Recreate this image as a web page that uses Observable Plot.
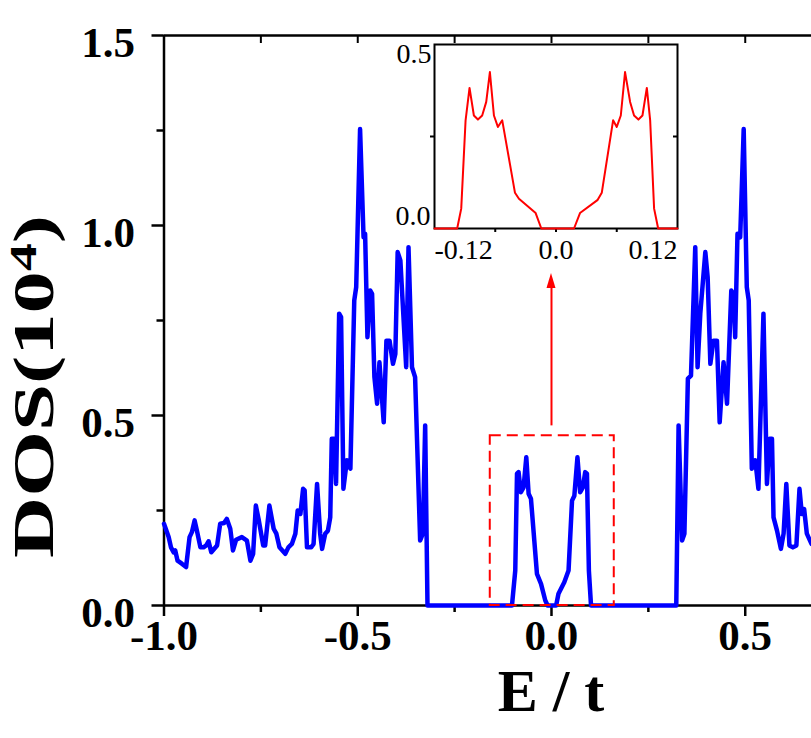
<!DOCTYPE html>
<html>
<head>
<meta charset="utf-8">
<script src="https://cdn.jsdelivr.net/npm/d3@7"></script>
<script src="https://cdn.jsdelivr.net/npm/@observablehq/plot@0.6"></script>
<style>
  html, body { margin: 0; padding: 0; background: white; }
  #wrap { position: relative; width: 811px; height: 738px; overflow: hidden; }
  #inset { position: absolute; }
</style>
</head>
<body>
<div id="wrap"></div>
<script>
// ---- main DOS curve (E/t, DOS in 10^4) ----
const E = [
 -1.000,-0.988,-0.982,-0.975,-0.971,-0.965,-0.954,-0.943,-0.934,-0.928,-0.921,-0.915,-0.906,-0.898,-0.891,-0.885,-0.878,-0.863,-0.855,-0.845,
 -0.838,-0.829,-0.822,-0.814,-0.799,-0.786,-0.777,-0.770,-0.763,-0.756,-0.744,-0.739,-0.728,-0.717,-0.710,-0.702,-0.687,-0.679,-0.670,-0.661,
 -0.655,-0.648,-0.641,-0.637,-0.631,-0.620,-0.614,-0.605,-0.597,-0.592,-0.584,-0.577,-0.571,-0.567,-0.561,-0.556,-0.548,-0.543,-0.537,-0.528,
 -0.519,-0.509,-0.504,-0.494,-0.485,-0.481,-0.475,-0.468,-0.463,-0.457,-0.450,-0.444,-0.433,-0.426,-0.418,-0.409,-0.403,-0.397,-0.390,-0.375,
 -0.369,-0.360,-0.352,-0.339,-0.332,-0.326,-0.320,
 -0.102,-0.0935,-0.089,-0.085,-0.079,-0.072,-0.065,-0.059,-0.053,-0.0375,-0.027,-0.016,-0.010,
 0.012,0.018,0.033,0.044,0.053,0.059,0.067,0.074,0.081,0.087,0.0915,0.0965,0.102,
 0.322,0.328,0.337,0.343,0.352,0.360,0.371,0.377,0.384,0.397,0.403,0.410,0.418,0.427,0.434,0.444,0.453,0.464,0.470,0.474,
 0.480,0.487,0.496,0.504,0.509,0.517,0.526,0.534,0.547,0.556,0.563,0.569,0.573,0.582,0.592,0.599,0.606,0.614,0.623,0.632,
 0.640,0.646,0.652,0.659,0.671
];
const DOS = [
 0.215,0.180,0.153,0.140,0.145,0.118,0.110,0.101,0.180,0.193,0.224,0.197,0.153,0.153,0.158,0.169,0.140,0.158,0.215,0.217,
 0.228,0.202,0.145,0.173,0.180,0.171,0.118,0.136,0.263,0.228,0.158,0.158,0.263,0.202,0.189,0.153,0.136,0.153,0.162,0.189,
 0.250,0.241,0.307,0.303,0.153,0.153,0.162,0.320,0.189,0.149,0.189,0.197,0.232,0.439,0.439,0.320,0.768,0.759,0.307,0.382,
 0.360,0.803,0.838,1.254,0.969,0.978,0.706,0.829,0.820,0.601,0.531,0.640,0.482,0.697,0.697,0.636,0.662,0.930,0.908,0.627,
 0.943,0.627,0.601,0.171,0.189,0.474,0,
 0,0.092,0.347,0.351,0.298,0.311,0.390,0.294,0.281,0.083,0.057,0.013,0,
 0,0.031,0.061,0.092,0.276,0.289,0.390,0.298,0.311,0.351,0.347,0.092,0,
 0,0.474,0.171,0.189,0.597,0.605,0.943,0.627,0.768,0.930,0.864,0.636,0.697,0.697,0.482,0.640,0.531,0.829,0.820,0.706,
 0.978,0.969,1.254,0.838,0.803,0.360,0.382,0.307,0.768,0.320,0.439,0.439,0.232,0.197,0.149,0.189,0.320,0.158,0.153,0.158,
 0.307,0.241,0.254,0.189,0.162
];

// ---- inset curve ----
const insetE = [
 -0.12,-0.0976,-0.0936,-0.0893,-0.0854,-0.0811,-0.0771,-0.0729,-0.0689,-0.0653,-0.0613,-0.0574,-0.0531,-0.0405,-0.0366,-0.0201,-0.0145,
 0.0178,0.0237,0.0409,0.0452,0.0564,0.0600,0.0640,0.0682,0.0732,0.0771,0.0814,0.0854,0.0897,0.0930,0.0969,0.1009,0.12
];
const insetDOS = [
 0,0,0.054,0.294,0.382,0.307,0.296,0.307,0.344,0.425,0.307,0.276,0.294,0.097,0.081,0.042,0,
 0,0.042,0.077,0.097,0.294,0.276,0.307,0.425,0.344,0.307,0.296,0.307,0.382,0.294,0.054,0,0
];

// ---- ticks ----
const xTicks = [-1, -0.5, 0, 0.5];
const xMinor = [-0.75, -0.25, 0.25];
const yTicks = [0, 0.5, 1.0, 1.5];
const yMinor = [0.25, 0.75, 1.25];
const insetXLabels = [-0.12, 0, 0.12];
const insetXTicks = [-0.06, 0, 0.06];
const insetYLabels = [0, 0.5];
const insetYTicks = [0.25];

// ---- annotations (zoom box and arrow) ----
const boxE = [-0.158, 0.162];
const boxDOS = [0, 0.447];
const arrowE = [0];
const arrowDOS = [0.474, 0.874];

const fmt1 = d => d.toFixed(1);
const data = E.map((e, i) => ({e, v: DOS[i]}));
const insetData = insetE.map((e, i) => ({e, v: insetDOS[i]}));
const blank = () => "";

const main = Plot.plot({
  width: 811, height: 738,
  marginLeft: 163.5, marginRight: 0, marginTop: 35, marginBottom: 133,
  x: {domain: [-1, 0.671]},
  y: {domain: [0, 1.5]},
  style: {fontFamily: "Liberation Serif", fontWeight: "bold", fontSize: "43px", color: "black", background: "white", overflow: "visible"},
  marks: [
    Plot.ruleY([0], {strokeWidth: 2.5}),
    Plot.ruleY([1.5], {strokeWidth: 2.5}),
    Plot.ruleX([-1], {strokeWidth: 2.5}),
    Plot.axisX({ticks: xTicks, tickSize: 11, tickPadding: 3, tickFormat: fmt1, strokeWidth: 2.5, label: null}),
    Plot.axisX({ticks: xMinor, tickSize: 7, tickFormat: blank, strokeWidth: 2.5, label: null}),
    Plot.axisX({anchor: "top", ticks: [...xTicks, ...xMinor], tickSize: -7, tickFormat: blank, strokeWidth: 2, label: null}),
    Plot.axisY({ticks: yTicks, tickSize: 12, tickFormat: blank, strokeWidth: 2.5, label: null}),
    Plot.axisY({ticks: yTicks, tickSize: 0, tickPadding: 29, dy: 8, tickFormat: fmt1, label: null}),
    Plot.axisY({ticks: yMinor, tickSize: 7, tickFormat: blank, strokeWidth: 2.5, label: null}),
    Plot.line(data, {x: "e", y: "v", stroke: "#0000ff", strokeWidth: 4.5, strokeLinejoin: "round"}),
    Plot.rect([{}], {x1: boxE[0], x2: boxE[1], y1: boxDOS[0], y2: boxDOS[1], fill: "none", stroke: "#ff0000", strokeWidth: 2, strokeDasharray: "11,6"}),
    Plot.link([{}], {x1: arrowE[0], x2: arrowE[0], y1: arrowDOS[0], y2: arrowDOS[1] - 0.035, stroke: "#ff0000", strokeWidth: 2})
  ]
});

const wrap = document.getElementById("wrap");
wrap.appendChild(main);

const sx = main.scale("x"), sy = main.scale("y");
const svg = d3.select(main);

// arrow head
const ax = sx.apply(arrowE[0]), ay = sy.apply(arrowDOS[1]);
svg.append("path")
  .attr("d", `M${ax},${ay}L${ax - 4.5},${ay + 15}L${ax + 4.5},${ay + 15}Z`)
  .attr("fill", "#ff0000");

// x axis title
svg.append("text")
  .attr("x", sx.apply(0)).attr("y", 711)
  .attr("text-anchor", "middle")
  .attr("font-family", "Liberation Serif").attr("font-weight", "bold").attr("font-size", 60)
  .text("E / t");

// y axis title with superscript (glyphs stretched along the text as in the reference)
const yt = svg.append("text")
  .attr("transform", `translate(53,558) rotate(-90) scale(1.46,1)`)
  .attr("text-anchor", "start")
  .attr("font-family", "Liberation Serif").attr("font-weight", "bold").attr("font-size", 58);
yt.append("tspan").text("DOS(10");
yt.append("tspan").attr("font-size", 38).attr("dy", -17).text("4");
yt.append("tspan").attr("dy", 17).text(")");

// ---- inset ----
const inset = Plot.plot({
  width: 243 + 60 + 10, height: 184 + 12 + 45,
  marginLeft: 60, marginRight: 10, marginTop: 12, marginBottom: 45,
  x: {domain: [-0.12, 0.12]},
  y: {domain: [0, 0.5]},
  style: {fontFamily: "Liberation Serif", fontWeight: "normal", fontSize: "28px", color: "black", background: "transparent", overflow: "visible"},
  marks: [
    Plot.frame({stroke: "black", strokeWidth: 2}),
    Plot.axisX({ticks: insetXTicks, tickSize: 4, tickFormat: blank, strokeWidth: 2, label: null}),
    Plot.axisX({ticks: [insetXLabels[0]], tickSize: 0, tickPadding: 11, textAnchor: "start", tickFormat: d => d.toFixed(2), label: null}),
    Plot.axisX({ticks: [insetXLabels[1]], tickSize: 0, tickPadding: 11, tickFormat: fmt1, label: null}),
    Plot.axisX({ticks: [insetXLabels[2]], tickSize: 0, tickPadding: 11, textAnchor: "end", tickFormat: d => d.toFixed(2), label: null}),
    Plot.axisY({ticks: insetYTicks, tickSize: 4, tickFormat: blank, strokeWidth: 2, label: null}),
    Plot.axisY({anchor: "right", ticks: insetYTicks, tickSize: -5, tickFormat: blank, strokeWidth: 2, label: null}),
    Plot.axisY({ticks: [insetYLabels[0]], tickSize: 0, tickPadding: 4, dy: -12, tickFormat: fmt1, label: null}),
    Plot.axisY({ticks: [insetYLabels[1]], tickSize: 0, tickPadding: 3, dy: 10, tickFormat: fmt1, label: null}),
    Plot.line(insetData, {x: "e", y: "v", stroke: "#ff0000", strokeWidth: 2})
  ]
});
const idiv = document.createElement("div");
idiv.id = "inset";
idiv.style.left = (434 - 60) + "px";
idiv.style.top = (44 - 12) + "px";
idiv.appendChild(inset);
wrap.appendChild(idiv);
</script>
</body>
</html>
